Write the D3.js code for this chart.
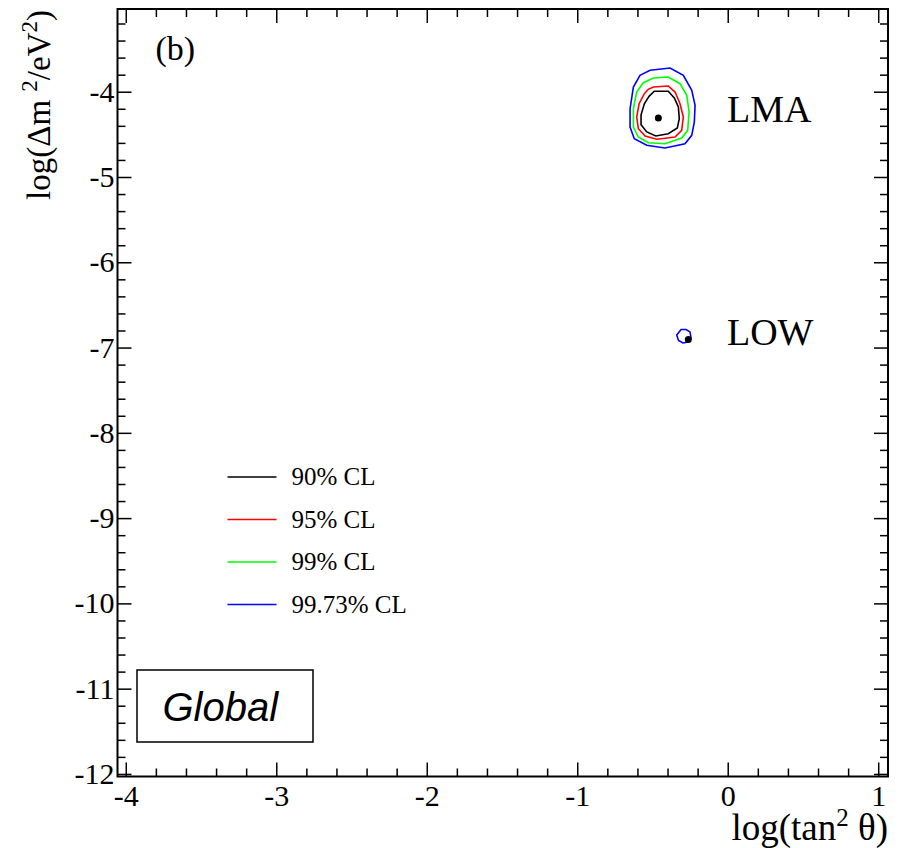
<!DOCTYPE html>
<html>
<head>
<meta charset="utf-8">
<script src="https://cdn.jsdelivr.net/npm/d3@7"></script>
<style>
  body { margin: 0; background: #fff; }
  text { font-family: "Liberation Serif", "Times New Roman", serif; fill: #000; }
</style>
</head>
<body>
<script>
// Chart data

let xMajor = [-4, -3, -2, -1, 0, 1]
let yMajor = [-4, -5, -6, -7, -8, -9, -10, -11, -12]

let levels = ['90% CL', '95% CL', '99% CL', '99.73% CL']
let levelColors = ['#000000', '#ff0000', '#00ff00', '#0000ff']

// LMA contours, [log(tan^2 theta), log(dm^2)]
let lma90 = [[-0.488,-3.995],[-0.395,-3.995],[-0.355,-4.074],[-0.328,-4.179],[-0.322,-4.317],[-0.335,-4.426],
  [-0.395,-4.492],[-0.478,-4.519],[-0.538,-4.472],[-0.576,-4.387],[-0.576,-4.270],[-0.554,-4.141],[-0.523,-4.054]]
let lma95 = [[-0.494,-3.945],[-0.395,-3.933],[-0.350,-4.004],[-0.317,-4.141],[-0.295,-4.297],[-0.306,-4.453],
  [-0.350,-4.531],[-0.472,-4.558],[-0.549,-4.519],[-0.594,-4.434],[-0.605,-4.297],[-0.589,-4.141],[-0.554,-4.023],[-0.528,-3.972]]
let lma99 = [[-0.494,-3.839],[-0.395,-3.828],[-0.317,-3.906],[-0.272,-4.042],[-0.257,-4.238],[-0.266,-4.453],
  [-0.306,-4.543],[-0.417,-4.610],[-0.528,-4.598],[-0.594,-4.531],[-0.627,-4.414],[-0.627,-4.199],[-0.605,-4.004],[-0.561,-3.894]]
let lma9973 = [[-0.516,-3.749],[-0.383,-3.722],[-0.295,-3.808],[-0.239,-3.984],[-0.217,-4.159],[-0.222,-4.355],
  [-0.239,-4.511],[-0.284,-4.610],[-0.417,-4.660],[-0.538,-4.628],[-0.621,-4.551],[-0.649,-4.414],[-0.649,-4.199],[-0.627,-3.945],[-0.583,-3.808]]
// LOW, only the 99.73% region shows up
let low9973 = [[-0.339,-6.852],[-0.310,-6.788],[-0.277,-6.788],[-0.251,-6.817],[-0.244,-6.887],[-0.264,-6.934],[-0.297,-6.946],[-0.327,-6.917]]

let bestFits = [[-0.461, -4.308], [-0.262, -6.905]]
let regionNames = [{name: 'LMA', x: -0.005, y: -4.36}, {name: 'LOW', x: -0.005, y: -6.97}]

let contours = [
  {level: 0, pts: lma90}, {level: 1, pts: lma95}, {level: 2, pts: lma99}, {level: 3, pts: lma9973},
  {level: 3, pts: low9973}
]

// Sizing

let width = 903
let height = 848
let margin = {left: 117.5, top: 9, right: 15, bottom: 71.5}
let chartWidth = width - margin.left - margin.right
let chartHeight = height - margin.top - margin.bottom

let svg = d3.select('body').append('svg')
    .attr('width', width)
    .attr('height', height)

let g = svg.append('g')
    .attr('transform', `translate(${margin.left}, ${margin.top})`)

let x = d3.scaleLinear().domain([-4.055, 1.065]).range([0, chartWidth])
let y = d3.scaleLinear().domain([-12.03, -3.03]).range([chartHeight, 0])

let xMinor = d3.range(-4, 1.0001, 0.2).map(v => +v.toFixed(1)).filter(v => !xMajor.includes(v))
let yMinor = d3.range(-12, -3.0999, 0.2).map(v => +v.toFixed(1)).filter(v => !yMajor.includes(v))

// Ticks pointing inward on all four sides
function ticks(axis, vals, size, tr) {
  let a = g.append('g').attr('transform', tr)
    .call(axis.tickValues(vals).tickSize(size).tickFormat(''))
  a.select('.domain').remove()
  a.selectAll('line').attr('stroke', '#000').attr('stroke-width', 1.5)
}
ticks(d3.axisTop(x), xMajor, 14, `translate(0, ${chartHeight})`)
ticks(d3.axisTop(x), xMinor, 8, `translate(0, ${chartHeight})`)
ticks(d3.axisBottom(x), xMajor, 14, 'translate(0, 0)')
ticks(d3.axisBottom(x), xMinor, 8, 'translate(0, 0)')
ticks(d3.axisRight(y), yMajor, 14, 'translate(0, 0)')
ticks(d3.axisRight(y), yMinor, 8, 'translate(0, 0)')
ticks(d3.axisLeft(y), yMajor, 14, `translate(${chartWidth}, 0)`)
ticks(d3.axisLeft(y), yMinor, 8, `translate(${chartWidth}, 0)`)

// Tick labels
let xLab = g.append('g').attr('transform', `translate(0, ${chartHeight})`)
  .call(d3.axisBottom(x).tickValues(xMajor).tickSize(0).tickPadding(8).tickFormat(d => String(d)))
xLab.select('.domain').remove()
xLab.selectAll('text').style('font-family', 'Liberation Serif').style('font-size', '30px')

let yLab = g.append('g')
  .call(d3.axisLeft(y).tickValues(yMajor).tickSize(0).tickPadding(3).tickFormat(d => String(d)))
yLab.select('.domain').remove()
yLab.selectAll('text').style('font-family', 'Liberation Serif').style('font-size', '30px')

// Frame
g.append('rect')
  .attr('width', chartWidth).attr('height', chartHeight)
  .attr('fill', 'none').attr('stroke', '#000').attr('stroke-width', 2)

// Contours
let line = d3.line().x(d => x(d[0])).y(d => y(d[1])).curve(d3.curveLinearClosed)
g.selectAll('.contour')
  .data(contours)
  .join('path')
  .attr('class', 'contour')
  .attr('d', d => line(d.pts))
  .attr('fill', 'none')
  .attr('stroke', d => levelColors[d.level])
  .attr('stroke-width', 1.6)

g.selectAll('.best')
  .data(bestFits)
  .join('circle')
  .attr('class', 'best')
  .attr('cx', d => x(d[0]))
  .attr('cy', d => y(d[1]))
  .attr('r', 3.5)
  .attr('fill', '#000')

g.selectAll('.region')
  .data(regionNames)
  .join('text')
  .attr('class', 'region')
  .attr('x', d => x(d.x))
  .attr('y', d => y(d.y))
  .style('font-size', '38px')
  .text(d => d.name)

// Legend
let legend = g.append('g').attr('transform', 'translate(110, 468)')
levels.forEach((lv, i) => {
  let row = legend.append('g').attr('transform', `translate(0, ${i * 42.5})`)
  row.append('line').attr('x1', 0).attr('x2', 49).attr('y1', 0).attr('y2', 0)
    .attr('stroke', levelColors[i]).attr('stroke-width', 1.5)
  row.append('text').attr('x', 64).attr('y', 8).style('font-size', '25px').text(lv)
})

// Panel tag and Global box
g.append('text').attr('x', 38).attr('y', 51).style('font-size', '34px').text('(b)')

g.append('rect')
  .attr('x', 19.5).attr('y', 661).attr('width', 176).attr('height', 72)
  .attr('fill', '#fff').attr('stroke', '#000').attr('stroke-width', 1.5)
g.append('text').attr('x', 45).attr('y', 712)
  .style('font-family', 'Liberation Sans').style('font-style', 'italic').style('font-size', '40px')
  .text('Global')

// Axis titles
let xt = svg.append('text')
  .attr('x', 888).attr('y', 840)
  .attr('text-anchor', 'end')
  .style('font-size', '37px')
xt.append('tspan').text('log(tan')
xt.append('tspan').attr('dy', -14).style('font-size', '25px').text('2')
xt.append('tspan').attr('dy', 14).text(' θ)')

let yt = svg.append('text')
  .attr('transform', 'translate(50, 10) rotate(-90)')
  .attr('text-anchor', 'end')
  .style('font-size', '33px')
yt.append('tspan').text('log(Δm ')
yt.append('tspan').attr('dy', -13).style('font-size', '23px').text('2')
yt.append('tspan').attr('dy', 13).text('/eV')
yt.append('tspan').attr('dy', -13).style('font-size', '23px').text('2')
yt.append('tspan').attr('dy', 13).text(')')
</script>
</body>
</html>
